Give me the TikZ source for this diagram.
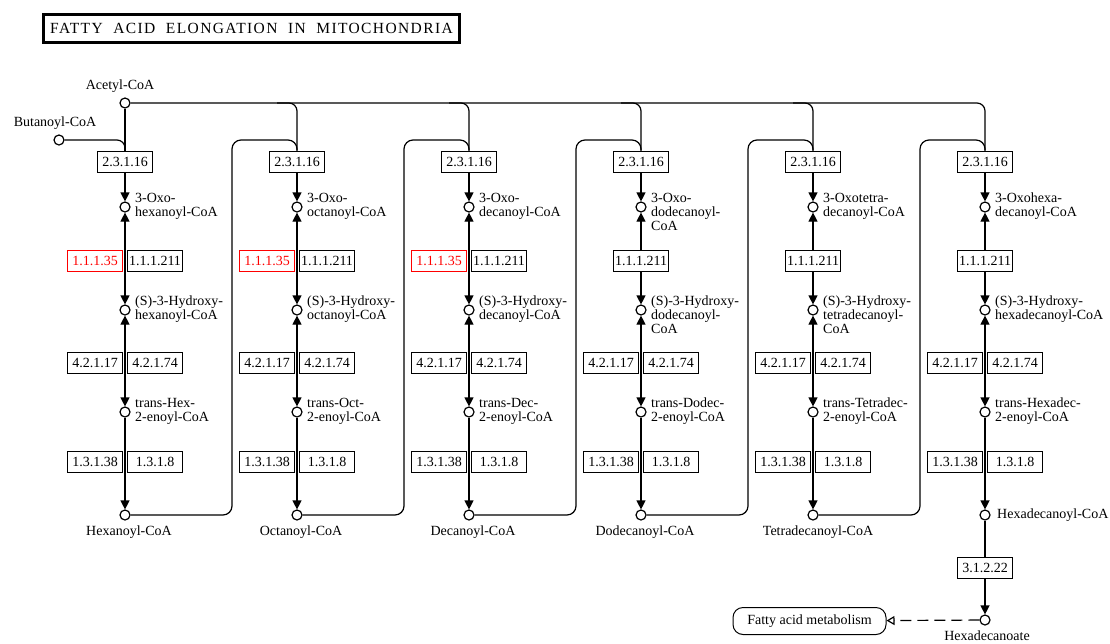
\documentclass[tikz,border=0pt]{standalone}
\usepackage{fontspec}
\setmainfont{Liberation Serif}
\usetikzlibrary{arrows.meta}
\pgfdeclarelayer{back}
\pgfsetlayers{back,main}
\begin{document}
\begin{tikzpicture}[x=1pt,y=-1pt,
  every node/.style={font=\fontsize{14}{14}\selectfont},
  cpd/.style={circle,draw,line width=1.2pt,minimum size=10pt,inner sep=0pt,fill=white},
  enz/.style={draw,line width=1pt,minimum width=55pt,minimum height=21pt,inner sep=0pt,fill=white},
  enzred/.style={enz,draw=red,text=red},
  lbl/.style={align=left,inner sep=0pt},
  conn/.style={line width=1.2pt},
  tip/.style={-{Triangle[length=9pt,width=9pt]}},
  bitip/.style={{Triangle[length=9pt,width=9pt]}-{Triangle[length=9pt,width=9pt]}},
]
\useasboundingbox (0,0) rectangle (1110,643);

% title
\node[draw,line width=2.5pt,minimum width=416pt,minimum height=28pt,inner sep=0pt,
      font=\fontsize{15.5}{15.5}\selectfont] (title) at (251.5,28.5)
  {\addfontfeature{LetterSpace=9}FATTY\ \ ACID\ \ ELONGATION\ \ IN\ \ MITOCHONDRIA};

% start compounds
\node[cpd] (acetyl) at (125,103) {};
\node[lbl] (acetyll) at (120,86) {Acetyl-CoA};
\node[cpd] (buta) at (59,140) {};
\node[lbl] (butal) at (55,123) {Butanoyl-CoA};

% columns
\foreach \i/\cx/\oxo/\hyd/\tr in {
 1/125/{3-Oxo-\\hexanoyl-CoA}/{(S)-3-Hydroxy-\\hexanoyl-CoA}/{trans-Hex-\\2-enoyl-CoA},
 2/297/{3-Oxo-\\octanoyl-CoA}/{(S)-3-Hydroxy-\\octanoyl-CoA}/{trans-Oct-\\2-enoyl-CoA},
 3/469/{3-Oxo-\\decanoyl-CoA}/{(S)-3-Hydroxy-\\decanoyl-CoA}/{trans-Dec-\\2-enoyl-CoA},
 4/641/{3-Oxo-\\dodecanoyl-\\CoA}/{(S)-3-Hydroxy-\\dodecanoyl-\\CoA}/{trans-Dodec-\\2-enoyl-CoA},
 5/813/{3-Oxotetra-\\decanoyl-CoA}/{(S)-3-Hydroxy-\\tetradecanoyl-\\CoA}/{trans-Tetradec-\\2-enoyl-CoA},
 6/985/{3-Oxohexa-\\decanoyl-CoA}/{(S)-3-Hydroxy-\\hexadecanoyl-CoA}/{trans-Hexadec-\\2-enoyl-CoA}}
{
  \node[enz] (e\i) at (\cx,161.5) {2.3.1.16};
  \node[cpd] (oxo\i) at (\cx,207) {};
  \node[lbl,anchor=north west] (oxol\i) at (\cx+10,193) {\oxo};
  \node[cpd] (hyd\i) at (\cx,310) {};
  \node[lbl,anchor=north west] (hydl\i) at (\cx+10,296) {\hyd};
  \node[enz] (dl\i) at (\cx-30,362.5) {4.2.1.17};
  \node[enz] (dr\i) at (\cx+30,362.5) {4.2.1.74};
  \node[cpd] (tr\i) at (\cx,412) {};
  \node[lbl,anchor=north west] (trl\i) at (\cx+10,398) {\tr};
  \node[enz] (rl\i) at (\cx-30,461.5) {1.3.1.38};
  \node[enz] (rr\i) at (\cx+30,461.5) {1.3.1.8};
  \node[cpd] (acyl\i) at (\cx,515) {};
  \begin{pgfonlayer}{back}
    \draw[conn,tip] (e\i) -- (oxo\i);
    \draw[conn,bitip] (oxo\i) -- (hyd\i);
    \draw[conn,bitip] (hyd\i) -- (tr\i);
    \draw[conn,tip] (tr\i) -- (acyl\i);
  \end{pgfonlayer}
}

% 3-hydroxyacyl-CoA dehydrogenases
\foreach \i/\cx in {1/125,2/297,3/469}{
  \node[enzred] (hl\i) at (\cx-30,260.5) {1.1.1.35};
  \node[enz] (hr\i) at (\cx+30,260.5) {1.1.1.211};
}
\foreach \i/\cx in {4/641,5/813,6/985}{
  \node[enz] (hr\i) at (\cx,260.5) {1.1.1.211};
}

% acyl-CoA labels
\node[lbl] (acyll1) at (129,532) {Hexanoyl-CoA};
\node[lbl] (acyll2) at (301,532) {Octanoyl-CoA};
\node[lbl] (acyll3) at (473,532) {Decanoyl-CoA};
\node[lbl] (acyll4) at (645,532) {Dodecanoyl-CoA};
\node[lbl] (acyll5) at (818,532) {Tetradecanoyl-CoA};
\node[lbl,anchor=west] (acyll6) at (997,515) {Hexadecanoyl-CoA};

% thioesterase
\node[enz] (te) at (985,567.5) {3.1.2.22};
\node[cpd] (hexa) at (985,620) {};
\node[lbl] (hexal) at (987,636) {Hexadecanoate};
\node[draw,line width=1pt,rounded corners=10pt,minimum width=153pt,minimum height=27pt,inner sep=0pt] (fam) at (809.5,621) {Fatty acid metabolism};

\begin{pgfonlayer}{back}
  % acetyl-CoA feed
  \draw[conn,rounded corners=8pt] (acetyl) -- (e6.north |- acetyl) -- (e6.north);
  \draw[conn] (acetyl) -- (e1);
  \foreach \i in {2,3,4,5}{
    \draw[conn,rounded corners=8pt] ([xshift=-20pt]e\i.north |- acetyl) -- (e\i.north |- acetyl) -- (e\i.north);
  }
  % butanoyl-CoA
  \draw[conn,rounded corners=8pt] (buta) -- (e1.north |- buta) -- (e1.north);
  % loops to next elongation round
  \foreach \i/\j/\cx in {1/2/125,2/3/297,3/4/469,4/5/641,5/6/813}{
    \coordinate (lb\i) at (\cx+107,515);
    \coordinate (lt\i) at (\cx+107,140);
    \draw[conn,rounded corners=9pt] (acyl\i) -- (lb\i) -- (lt\i) -- (e\j.north |- lt\i) -- (e\j.north);
  }
  \draw[conn] (acyl6) -- (te);
  \draw[conn,tip] (te) -- (hexa);
  \draw[conn,dash pattern=on 11pt off 6pt,-{Triangle[open,length=8pt,width=9pt]}] (hexa) -- (fam);
\end{pgfonlayer}
\end{tikzpicture}
\end{document}
